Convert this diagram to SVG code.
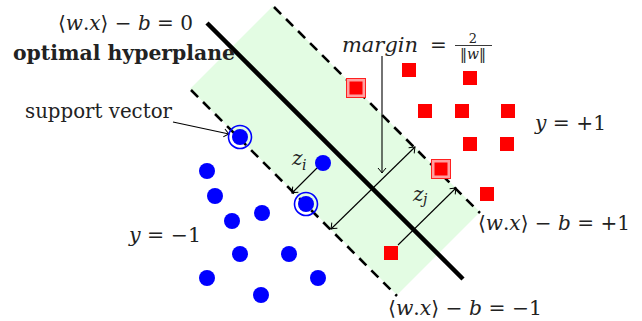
<svg xmlns="http://www.w3.org/2000/svg" width="642" height="321" viewBox="0 0 642 321">
<style>
.lab text{fill:#222;font-size:20px}
.it{font-style:italic}
.bold{font-weight:bold;fill:#111}
.band{fill:#e3fce3}
.dash{stroke:#000;stroke-width:2.6;stroke-dasharray:10 7;fill:none}
.solid{stroke:#000;stroke-width:4.5;fill:none}
.conn{stroke:#000;stroke-width:1.1;fill:none}
.blue{fill:#0000ff}
.ring{fill:none;stroke:#0000ff;stroke-width:1.6}
.red{fill:#ff0000}
.redbox{fill:#ffa0a0;stroke:#ff2020;stroke-width:1}
</style>
<defs>
<marker id="arr" viewBox="-6 -5 7 10" refX="0" refY="0" markerWidth="7" markerHeight="10" markerUnits="userSpaceOnUse" orient="auto-start-reverse">
<path d="M-5,-4 Q-1.5,-1 0,0 Q-1.5,1 -5,4" fill="none" stroke="#000" stroke-width="1"/>
</marker>
<circle id="bc" r="8" class="blue"/>
<rect id="rs" x="-7" y="-7" width="14" height="14" class="red"/>
</defs>

<g id="margin-band">
<polygon class="band" points="273,6 480,212 397,295 190,89"/>
<line class="dash" x1="274" y1="7" x2="480" y2="213"/>
<line class="dash" x1="191" y1="90" x2="397" y2="296"/>
</g>
<g id="hyperplane">
<line class="solid" x1="207" y1="23" x2="463" y2="279"/>
</g>

<g id="connectors">
<line class="conn" x1="173" y1="122" x2="229" y2="134" marker-end="url(#arr)"/>
<line class="conn" x1="382" y1="56" x2="382" y2="173" marker-end="url(#arr)"/>
<line class="conn" x1="331" y1="229" x2="415" y2="147" marker-start="url(#arr)" marker-end="url(#arr)"/>
<line class="conn" x1="317" y1="168" x2="292" y2="193" marker-end="url(#arr)"/>
<line class="conn" x1="398" y1="245" x2="456" y2="188" marker-end="url(#arr)"/>
</g>

<g id="negative-points">
<g id="sv1"><circle cx="240" cy="137" r="11.5" class="ring"/><use href="#bc" x="240" y="137"/></g>
<g id="sv2"><circle cx="306" cy="204" r="11.5" class="ring"/><use href="#bc" x="306" y="204"/></g>
<use href="#bc" x="323" y="163"/>
<use href="#bc" x="207" y="171"/>
<use href="#bc" x="215" y="196"/>
<use href="#bc" x="232" y="221"/>
<use href="#bc" x="262" y="213"/>
<use href="#bc" x="240" y="254"/>
<use href="#bc" x="289" y="254"/>
<use href="#bc" x="207" y="278"/>
<use href="#bc" x="318" y="278"/>
<use href="#bc" x="261" y="295"/>
</g>

<g id="positive-points">
<g id="sv3"><rect x="346.5" y="78.5" width="19" height="19" class="redbox"/><rect x="349.5" y="81.5" width="13" height="13" class="red"/></g>
<g id="sv4"><rect x="431.5" y="159.5" width="19" height="19" class="redbox"/><rect x="434.5" y="162.5" width="13" height="13" class="red"/></g>
<use href="#rs" x="409" y="70"/>
<use href="#rs" x="470" y="78"/>
<use href="#rs" x="425" y="111"/>
<use href="#rs" x="462" y="111"/>
<use href="#rs" x="508" y="111"/>
<use href="#rs" x="470" y="144"/>
<use href="#rs" x="507" y="144"/>
<use href="#rs" x="487" y="194"/>
<use href="#rs" x="391" y="253"/>
</g>

<g id="labels" class="lab" font-family="'DejaVu Serif', serif">
<text x="58" y="30" textLength="135" lengthAdjust="spacingAndGlyphs">⟨<tspan class="it">w</tspan>.<tspan class="it">x</tspan>⟩ − <tspan class="it">b</tspan> = 0</text>
<text x="13" y="60" class="bold" textLength="222" lengthAdjust="spacingAndGlyphs">optimal hyperplane</text>
<text x="25" y="118" textLength="147" lengthAdjust="spacingAndGlyphs">support vector</text>
<text x="342" y="52" class="it" textLength="76" lengthAdjust="spacingAndGlyphs">margin</text>
<text x="430" y="52">=</text>
<text x="473" y="43" text-anchor="middle" style="font-size:13px">2</text>
<line x1="455" y1="45.5" x2="492" y2="45.5" stroke="#222" stroke-width="0.9"/>
<text x="473" y="59" text-anchor="middle" style="font-size:14px">‖<tspan class="it">w</tspan>‖</text>
<text x="535" y="130" textLength="71" lengthAdjust="spacingAndGlyphs"><tspan class="it">y</tspan> = +1</text>
<text x="129" y="242" textLength="72" lengthAdjust="spacingAndGlyphs"><tspan class="it">y</tspan> = −1</text>
<text x="292" y="165" class="it">z</text>
<text x="302" y="170" class="it" style="font-size:14px">i</text>
<text x="413" y="201" class="it">z</text>
<text x="423" y="204" class="it" style="font-size:14px">j</text>
<text x="478" y="230" textLength="152" lengthAdjust="spacingAndGlyphs">⟨<tspan class="it">w</tspan>.<tspan class="it">x</tspan>⟩ − <tspan class="it">b</tspan> = +1</text>
<text x="388" y="315" textLength="154" lengthAdjust="spacingAndGlyphs">⟨<tspan class="it">w</tspan>.<tspan class="it">x</tspan>⟩ − <tspan class="it">b</tspan> = −1</text>
</g>
</svg>
